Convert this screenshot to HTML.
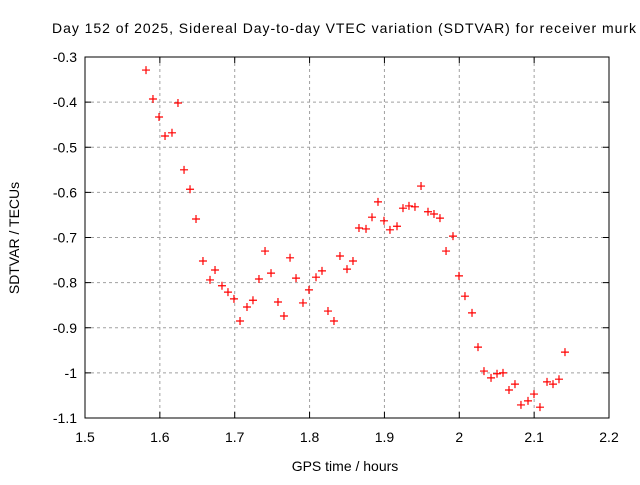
<!DOCTYPE html>
<html><head><meta charset="utf-8"><style>
body{margin:0;background:#fff}
svg text{font-family:"Liberation Sans",sans-serif;fill:#000}
</style></head><body>
<svg id="chart" width="640" height="480" xmlns="http://www.w3.org/2000/svg">
<rect width="640" height="480" fill="#fff"/>
<text x="52" y="33" font-size="14" textLength="584">Day 152 of 2025, Sidereal Day-to-day VTEC variation (SDTVAR) for receiver murk</text>
<text x="345" y="471" font-size="14" text-anchor="middle">GPS time / hours</text>
<text transform="translate(19,238) rotate(-90)" font-size="14" text-anchor="middle">SDTVAR / TECUs</text>
<g id="grid"></g><g id="ticks"></g><g id="pts"></g>
<rect x="85" y="57" width="524" height="361" fill="none" stroke="#000" stroke-width="1"/>
</svg>
<script>
const xTicks=[1.5,1.6,1.7,1.8,1.9,2,2.1,2.2];
const xTickLabels=["1.5","1.6","1.7","1.8","1.9","2","2.1","2.2"];
const yTicks=[-0.3,-0.4,-0.5,-0.6,-0.7,-0.8,-0.9,-1,-1.1];
const yTickLabels=["-0.3","-0.4","-0.5","-0.6","-0.7","-0.8","-0.9","-1","-1.1"];
const times=[1.5815,1.5908,1.5989,1.6069,1.6162,1.6242,1.6323,1.6403,1.6483,1.6576,1.6670,1.6737,1.6830,1.6910,1.6990,1.7071,1.7164,1.7244,1.7324,1.7405,1.7485,1.7578,1.7658,1.7739,1.7819,1.7912,1.7992,1.8086,1.8166,1.8246,1.8326,1.8406,1.8500,1.8580,1.8660,1.8754,1.8834,1.8914,1.8994,1.9074,1.9168,1.9248,1.9328,1.9408,1.9489,1.9582,1.9662,1.9742,1.9823,1.9916,1.9996,2.0076,2.0170,2.0250,2.0330,2.0424,2.0504,2.0584,2.0664,2.0744,2.0824,2.0918,2.0998,2.1078,2.1172,2.1252,2.1332,2.1412];
const sdtvar=[-0.329,-0.393,-0.433,-0.475,-0.468,-0.402,-0.550,-0.593,-0.659,-0.752,-0.794,-0.772,-0.807,-0.821,-0.836,-0.885,-0.854,-0.839,-0.792,-0.730,-0.779,-0.843,-0.874,-0.745,-0.790,-0.845,-0.816,-0.788,-0.774,-0.863,-0.885,-0.741,-0.770,-0.752,-0.679,-0.681,-0.655,-0.621,-0.663,-0.683,-0.675,-0.635,-0.630,-0.632,-0.586,-0.643,-0.648,-0.657,-0.730,-0.697,-0.785,-0.830,-0.867,-0.943,-0.996,-1.011,-1.002,-1.000,-1.038,-1.025,-1.071,-1.062,-1.047,-1.076,-1.020,-1.025,-1.014,-0.954];
const L=85,R=609,T=57,B=418;
const xs=v=>L+(v-1.5)/(2.2-1.5)*(R-L);
const ys=v=>T+(-0.3-v)/(0.8)*(B-T);
const NS="http://www.w3.org/2000/svg";
function mk(tag,attrs,parent){const e=document.createElementNS(NS,tag);for(const k in attrs)e.setAttribute(k,attrs[k]);document.getElementById(parent).appendChild(e);return e;}
xTicks.forEach((v,i)=>{
  const x=xs(v);
  if(i>0&&i<xTicks.length-1){const g=mk('line',{x1:x,x2:x,y1:T,y2:B,stroke:'#a0a0a0','stroke-dasharray':'3,3'},'grid');
  
  }
  mk('line',{x1:x,x2:x,y1:B,y2:B-6,stroke:'#000'},'ticks');
  mk('line',{x1:x,x2:x,y1:T,y2:T+6,stroke:'#000'},'ticks');
  const t=mk('text',{x:x,y:B+24,'font-size':14,'text-anchor':'middle'},'ticks');
  t.textContent=xTickLabels[i];
  
  
});
yTicks.forEach((v,i)=>{
  const y=ys(v);
  if(i>0&&i<yTicks.length-1){const g=mk('line',{x1:L,x2:R,y1:y,y2:y,stroke:'#a0a0a0','stroke-dasharray':'3,3'},'grid');
  
  }
  mk('line',{x1:L,x2:L+6,y1:y,y2:y,stroke:'#000'},'ticks');
  mk('line',{x1:R,x2:R-6,y1:y,y2:y,stroke:'#000'},'ticks');
  const t=mk('text',{x:L-8,y:y+5,'font-size':14,'text-anchor':'end'},'ticks');
  t.textContent=yTickLabels[i];
  
  
});
times.forEach((tv,i)=>{
  const x=xs(tv),y=ys(sdtvar[i]);
  const p=mk('path',{d:`M${x-4},${y}H${x+4}M${x},${y-4}V${y+4}`,stroke:'#ff0000','stroke-width':1.2,fill:'none'},'pts');
  
  
});
</script>
</body></html>
